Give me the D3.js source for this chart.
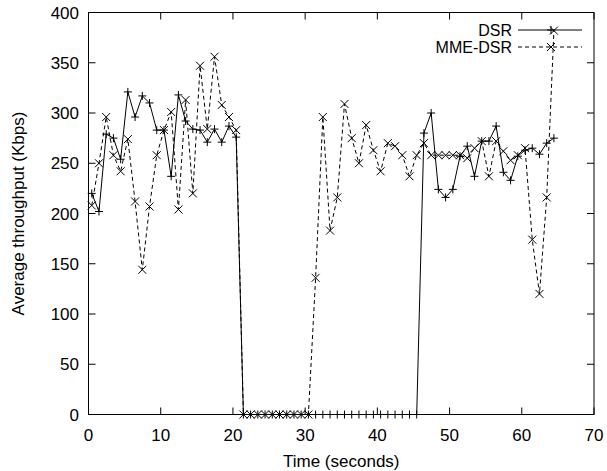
<!DOCTYPE html>
<html><head><meta charset="utf-8">
<script src="https://cdn.jsdelivr.net/npm/d3@7"></script>
<style>body{margin:0;background:#fff}svg{display:block}text{font-family:"Liberation Sans",Arial,sans-serif;fill:#000}</style>
</head><body>
<script>
const times = [0.45,1.45,2.45,3.45,4.45,5.45,6.45,7.45,8.45,9.45,10.45,11.45,12.45,13.45,14.45,15.45,16.45,17.45,18.45,19.45,20.45,21.45,22.45,23.45,24.45,25.45,26.45,27.45,28.45,29.45,30.45,31.45,32.45,33.45,34.45,35.45,36.45,37.45,38.45,39.45,40.45,41.45,42.45,43.45,44.45,45.45,46.45,47.45,48.45,49.45,50.45,51.45,52.45,53.45,54.45,55.45,56.45,57.45,58.45,59.45,60.45,61.45,62.45,63.45,64.45];
const dsr = [220,202,279,275,254,321,296,317,310,283,283,237,318,292,284,283,271,284,271,287,276,
  0,0,0,0,0,0,0,0,0,0,0,0,0,0,0,0,0,0,0,0,0,0,0,0,0,
  280,300,224,216,224,257,267,237,272,272,287,241,233,257,263,265,259,270,275];
const mme = [208,250,296,258,242,274,212,144,207,258,283,301,204,313,220,347,284,356,308,296,283,
  0,0,0,0,0,0,0,0,0,0,
  136,296,183,216,309,275,250,288,263,242,270,267,258,237,258,270,258,258,258,258,258,255,265,272,237,272,262,253,258,265,174,120,216,382];
const xTicks = [0,10,20,30,40,50,60,70];
const yTicks = [0,50,100,150,200,250,300,350,400];
const seriesNames = ["DSR","MME-DSR"];

const W=607,H=471;
const svg=d3.select("body").append("svg").attr("width",W).attr("height",H);
svg.append("rect").attr("width",W).attr("height",H).attr("fill","#fff");
const x=d3.scaleLinear().domain([0,70]).range([88.5,594]);
const y=d3.scaleLinear().domain([0,400]).range([414.5,12.5]);
const FS=17, TL=7;
const g=svg.append("g");
xTicks.forEach(t=>{
  g.append("line").attr("x1",x(t)).attr("x2",x(t)).attr("y1",y(0)).attr("y2",y(0)-TL).attr("stroke","#000");
  g.append("line").attr("x1",x(t)).attr("x2",x(t)).attr("y1",y(400)).attr("y2",y(400)+TL).attr("stroke","#000");
  g.append("text").attr("x",x(t)).attr("y",441).attr("text-anchor","middle").attr("font-size",FS).text(t);
});
yTicks.forEach(t=>{
  g.append("line").attr("x1",x(0)).attr("x2",x(0)+TL).attr("y1",y(t)).attr("y2",y(t)).attr("stroke","#000");
  g.append("line").attr("x1",x(70)).attr("x2",x(70)-TL).attr("y1",y(t)).attr("y2",y(t)).attr("stroke","#000");
  g.append("text").attr("x",79).attr("y",y(t)+6).attr("text-anchor","end").attr("font-size",FS).text(t);
});
g.append("rect").attr("x",x(0)).attr("y",y(400)).attr("width",x(70)-x(0)).attr("height",y(0)-y(400)).attr("fill","none").attr("stroke","#000");
svg.append("text").attr("x",(x(0)+x(70))/2).attr("y",467).attr("text-anchor","middle").attr("font-size",FS).text("Time (seconds)");
svg.append("text").attr("transform",`translate(24,${(y(0)+y(400))/2}) rotate(-90)`).attr("text-anchor","middle").attr("font-size",FS).text("Average throughput (Kbps)");

const line=d3.line().x(d=>x(d[0])).y(d=>y(d[1]));
const plus=(sel,cx,cy)=>{const r=4;sel.append("path").attr("d",`M${cx-r},${cy}H${cx+r}M${cx},${cy-r}V${cy+r}`).attr("stroke","#000").attr("fill","none");};
const cross=(sel,cx,cy)=>{const r=4;sel.append("path").attr("d",`M${cx-r},${cy-r}L${cx+r},${cy+r}M${cx-r},${cy+r}L${cx+r},${cy-r}`).attr("stroke","#000").attr("fill","none");};
const dD=times.map((t,i)=>[t,dsr[i]]), dM=times.map((t,i)=>[t,mme[i]]);
const pg=svg.append("g");
pg.append("path").datum(dD).attr("d",line).attr("fill","none").attr("stroke","#000").attr("stroke-width",1);
pg.append("path").datum(dM).attr("d",line).attr("fill","none").attr("stroke","#000").attr("stroke-width",1).attr("stroke-dasharray","4,3");
dD.forEach(d=>plus(pg,x(d[0]),y(d[1])));
dM.forEach(d=>cross(pg,x(d[0]),y(d[1])));
const lg=svg.append("g");
const rows=[{n:seriesNames[0],dash:null,m:plus,cy:30},{n:seriesNames[1],dash:"4,3",m:cross,cy:47}];
rows.forEach(r=>{
  lg.append("text").attr("x",512).attr("y",r.cy+5.5).attr("text-anchor","end").attr("font-size",16).text(r.n);
  lg.append("line").attr("x1",518).attr("x2",582).attr("y1",r.cy).attr("y2",r.cy).attr("stroke","#000").attr("stroke-dasharray",r.dash);
  r.m(lg,551,r.cy);
});
</script>
</body></html>
